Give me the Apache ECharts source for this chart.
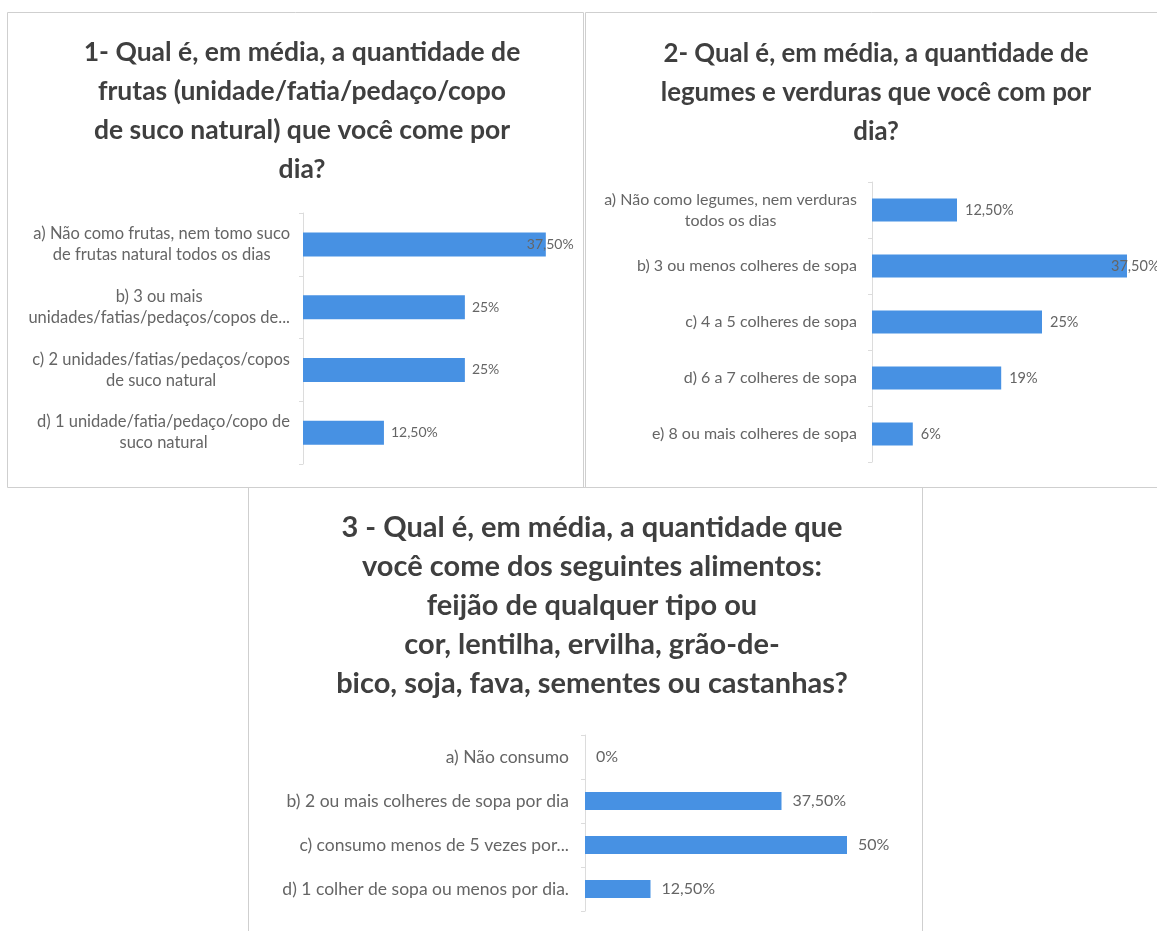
<!DOCTYPE html>
<html>
<head>
<meta charset="utf-8">
<script src="https://cdn.jsdelivr.net/npm/echarts@6/dist/echarts.min.js"></script>
<style>
html,body{margin:0;padding:0;background:#fff;}
#c{width:1157px;height:931px;}
</style>
</head>
<body>
<div id="c"></div>
<script>
// ---- data ----
const title1 = "1- Qual é, em média, a quantidade de\nfrutas (unidade/fatia/pedaço/copo\nde suco natural) que você come por\ndia?";
const cats1 = [
  "a) Não como frutas, nem tomo suco\nde frutas natural todos os dias",
  "b) 3 ou mais\nunidades/fatias/pedaços/copos de...",
  "c) 2 unidades/fatias/pedaços/copos\nde suco natural",
  "d) 1 unidade/fatia/pedaço/copo de\nsuco natural"
];
const vals1 = [37.5, 25, 25, 12.5];

const title2 = "2- Qual é, em média, a quantidade de\nlegumes e verduras que você com por\ndia?";
const cats2 = [
  "a) Não como legumes, nem verduras\ntodos os dias",
  "b) 3 ou menos colheres de sopa",
  "c) 4 a 5 colheres de sopa",
  "d) 6 a 7 colheres de sopa",
  "e) 8 ou mais colheres de sopa"
];
const vals2 = [12.5, 37.5, 25, 19, 6];

const title3 = "3 - Qual é, em média, a quantidade que\nvocê come dos seguintes alimentos:\nfeijão de qualquer tipo ou\ncor, lentilha, ervilha, grão-de-\nbico, soja, fava, sementes ou castanhas?";
const cats3 = [
  "a) Não consumo",
  "b) 2 ou mais colheres de sopa por dia",
  "c) consumo menos de 5 vezes por...",
  "d) 1 colher de sopa ou menos por dia."
];
const vals3 = [0, 37.5, 50, 12.5];

// ---- styling ----
const BAR = '#4791e3';
const TITLE_C = '#3f3f3f';
const LABEL_C = '#656565';
const FONT = 'Lato, "Open Sans", sans-serif';

function fmt(v){
  return Number.isInteger(v) ? v + '%' : v.toFixed(2).replace('.', ',') + '%';
}

const panels = [
  {title: title1, cats: cats1, vals: vals1, tx: 297, ty: 28, tfs: 26.5, cfs: 16.5, dfs: 14, dist: 7,
   grid:{left:303, top:213, width:259, height:251}, max:40, bw:24, margin:13, shiftMax:-26},
  {title: title2, cats: cats2, vals: vals2, tx: 871, ty: 29, tfs: 25.8, cfs: 16, dfs: 14.5, dist: 8,
   grid:{left:872, top:182, width:272, height:280}, max:40, bw:23, margin:15, shiftMax:-24},
  {title: title3, cats: cats3, vals: vals3, tx: 587, ty: 503, tfs: 29, cfs: 17.5, dfs: 16, dist: 11,
   grid:{left:585, top:735, width:262, height:176}, max:50, bw:18, margin:16, shiftMax:0}
];

const option = {
  backgroundColor: '#ffffff',
  animation: false,
  title: panels.map(p => ({
    text: p.title, left: p.tx, top: p.ty, textAlign: 'center',
    textStyle: {fontFamily: FONT, fontWeight: 'bold', fontSize: p.tfs, lineHeight: 39, color: TITLE_C}
  })),
  graphic: [
    {type:'rect', shape:{x:7.5, y:12.5, width:576, height:475}, style:{fill:'none', stroke:'#cfcfcf', lineWidth:1}},
    {type:'rect', shape:{x:585.5, y:12.5, width:580, height:475}, style:{fill:'none', stroke:'#cfcfcf', lineWidth:1}},
    {type:'rect', shape:{x:248.5, y:487.5, width:674, height:450}, style:{fill:'none', stroke:'#cfcfcf', lineWidth:1}}
  ],
  grid: panels.map(p => Object.assign({containLabel:false}, p.grid)),
  xAxis: panels.map((p,i) => ({
    type:'value', gridIndex:i, min:0, max:p.max, show:false
  })),
  yAxis: panels.map((p,i) => ({
    type:'category', gridIndex:i, data:p.cats, inverse:true,
    axisLine:{show:true, lineStyle:{color:'#dcdcdc', width:1}},
    axisTick:{show:true, length:4, lineStyle:{color:'#dcdcdc'}},
    axisLabel:{
      margin:p.margin,
      formatter: v => '{c|' + v + '}',
      rich:{c:{fontFamily:FONT, fontSize:p.cfs, color:LABEL_C, align:'center', lineHeight:21}}
    },
    splitLine:{show:false}
  })),
  series: panels.map((p,i) => {
    const mx = Math.max.apply(null, p.vals);
    return {
      type:'bar', xAxisIndex:i, yAxisIndex:i, barWidth:p.bw,
      itemStyle:{color:BAR},
      label:{show:true, position:'right', distance:p.dist, fontFamily:FONT, fontSize:p.dfs, color:LABEL_C, formatter: d => fmt(d.value)},
      data: p.vals.map(v => (v === mx && p.shiftMax) ? {value:v, label:{offset:[p.shiftMax,0]}} : v)
    };
  })
};

const chart = echarts.init(document.getElementById('c'), null, {renderer:'canvas'});
chart.setOption(option);
</script>
</body>
</html>
